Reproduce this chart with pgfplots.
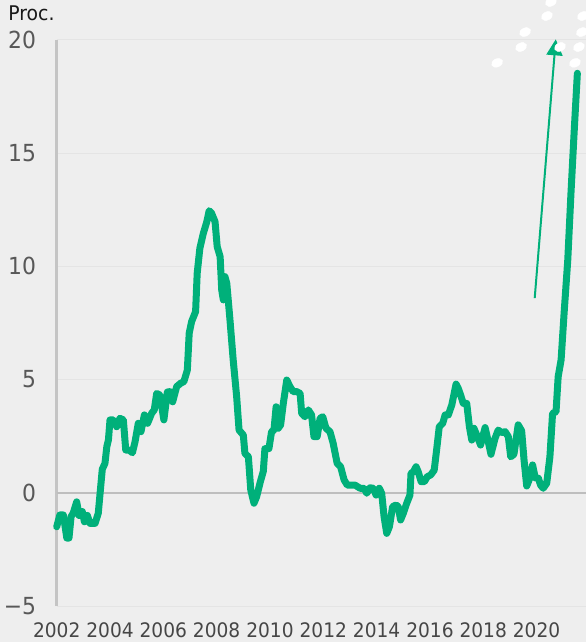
\documentclass[border=0pt]{standalone}
\usepackage{pgfplots}
\pgfplotsset{compat=1.18}
\usepackage{fontspec}
\setmainfont{DejaVu Sans}[FakeStretch=0.93]
\usetikzlibrary{arrows.meta,backgrounds}
\definecolor{bg}{RGB}{238,238,238}
\definecolor{gridc}{RGB}{228,228,228}
\definecolor{zeroc}{RGB}{190,190,190}
\definecolor{axc}{RGB}{196,196,196}
\definecolor{lgreen}{RGB}{0,176,122}
\definecolor{ylab}{RGB}{88,88,88}
\definecolor{xlab}{RGB}{70,70,70}
\definecolor{titc}{RGB}{25,25,25}
\begin{document}
\begin{tikzpicture}
\begin{axis}[
  scale only axis, width=529.3bp, height=566bp,
  xmin=2002, xmax=2021.854, ymin=-5, ymax=20,
  clip=false,
  axis lines*=left,
  x axis line style={draw=none},
  y axis line style={draw=axc, line width=2.4bp},
  xtick={2002,2004,...,2020},
  xticklabels={2002,2004,2006,2008,2010,2012,2014,2016,2018,2020},
  ytick={-5,0,5,10,15,20},
  yticklabels={−5,0,5,10,15,20},
  major tick length=0pt,
  ymajorgrids, grid style={gridc, line width=1bp},
  extra y ticks={0}, extra y tick labels={},
  extra y tick style={grid style={zeroc, line width=2bp}},
  xticklabel style={font=\fontsize{20bp}{24bp}\selectfont, text=xlab, anchor=base, inner sep=0pt, yshift=-31.8bp},
  yticklabel style={font=\fontsize{23.5bp}{28bp}\selectfont, text=ylab, anchor=east, inner sep=0pt, xshift=-20.5bp},
]
\coordinate (bl) at (rel axis cs:0,0);
\coordinate (tr) at (rel axis cs:1,1);
% decorative white dots
\addplot[only marks, mark=*, color=white, mark size=4.1bp,
  mark options={draw=none, fill=white, rotate=25, xscale=1.42}] coordinates {
  (2020.54,21.68) (2020.39,21.06) (2019.57,20.35) (2019.42,19.69) (2018.52,18.99)
  (2021.74,21.06) (2021.70,20.35) (2021.59,19.69) (2021.44,18.99) (2020.88,19.69)
};
% main series
\addplot[lgreen, line width=7bp, line join=round, line cap=round] coordinates {
(2002.00,-1.5) (2002.12,-0.98) (2002.25,-0.98) (2002.38,-2.0) (2002.46,-2.0)
(2002.54,-1.05) (2002.62,-0.9) (2002.75,-0.4) (2002.84,-1.0) (2002.96,-0.83)
(2003.04,-1.28) (2003.15,-1.0) (2003.25,-1.35) (2003.44,-1.35) (2003.56,-0.9)
(2003.65,0.27) (2003.71,1.04) (2003.81,1.3) (2003.88,2.04) (2003.94,2.33)
(2004.00,3.22) (2004.12,3.22) (2004.25,2.92) (2004.37,3.29) (2004.50,3.22)
(2004.59,1.89) (2004.71,1.89) (2004.84,1.77) (2004.94,2.26) (2005.06,3.07)
(2005.16,2.7) (2005.29,3.44) (2005.41,3.07) (2005.56,3.51) (2005.66,3.66)
(2005.75,4.39) (2005.87,4.32) (2006.02,3.22) (2006.15,4.45) (2006.25,4.47)
(2006.35,4.02) (2006.50,4.69) (2006.65,4.84) (2006.77,4.91) (2006.90,5.42)
(2006.97,7.05) (2007.06,7.56) (2007.21,8.0) (2007.27,9.70) (2007.37,10.8)
(2007.50,11.46) (2007.63,11.97) (2007.72,12.46) (2007.81,12.35) (2007.94,11.97)
(2008.02,10.87) (2008.13,10.43) (2008.19,8.96) (2008.25,8.52) (2008.31,9.55)
(2008.38,9.25) (2008.50,7.63) (2008.62,5.87) (2008.75,4.25) (2008.84,2.77)
(2009.00,2.55) (2009.06,1.74) (2009.19,1.59) (2009.28,0.12) (2009.40,-0.46)
(2009.50,-0.17) (2009.63,0.45) (2009.75,0.95) (2009.81,1.95) (2009.96,1.95)
(2010.06,2.7) (2010.15,2.77) (2010.23,3.80) (2010.31,2.85) (2010.40,3.0)
(2010.50,3.95) (2010.63,4.98) (2010.75,4.69) (2010.87,4.47) (2011.00,4.47)
(2011.13,4.39) (2011.19,3.51) (2011.31,3.36) (2011.44,3.66) (2011.56,3.44)
(2011.65,2.48) (2011.77,2.48) (2011.88,3.29) (2011.98,3.36) (2012.10,2.85)
(2012.25,2.70) (2012.37,2.19) (2012.52,1.30) (2012.65,1.15) (2012.78,0.57)
(2012.90,0.34) (2013.19,0.34) (2013.38,0.2) (2013.53,0.2) (2013.63,-0.02)
(2013.75,0.22) (2013.88,0.2) (2013.98,-0.1) (2014.10,0.2) (2014.19,-0.02)
(2014.28,-1.06) (2014.38,-1.79) (2014.48,-1.5) (2014.60,-0.61) (2014.73,-0.54)
(2014.81,-0.61) (2014.90,-1.2) (2015.00,-0.91) (2015.13,-0.46) (2015.25,-0.1)
(2015.29,0.86) (2015.38,0.93) (2015.48,1.15) (2015.56,0.93) (2015.67,0.49)
(2015.79,0.49) (2015.90,0.71) (2016.03,0.79) (2016.16,1.0) (2016.25,1.89)
(2016.35,2.92) (2016.48,3.07) (2016.57,3.44) (2016.69,3.44) (2016.82,3.88)
(2016.98,4.80) (2017.06,4.62) (2017.15,4.32) (2017.25,3.95) (2017.38,3.95)
(2017.48,2.92) (2017.57,2.33) (2017.65,2.85) (2017.78,2.48) (2017.90,2.11)
(2018.07,2.88) (2018.18,2.3) (2018.29,1.70) (2018.44,2.4) (2018.56,2.77)
(2018.69,2.66) (2018.82,2.70) (2018.94,2.48) (2019.03,1.59) (2019.15,1.70)
(2019.31,3.0) (2019.44,2.74) (2019.53,1.45) (2019.63,0.3) (2019.73,0.6)
(2019.85,1.23) (2019.95,0.66) (2020.07,0.64) (2020.15,0.34) (2020.25,0.2)
(2020.38,0.42) (2020.50,1.59) (2020.60,3.51) (2020.73,3.58) (2020.81,5.13)
(2020.92,5.87) (2021.04,8.07) (2021.17,10.28) (2021.29,13.23) (2021.42,16.17)
(2021.53,18.53)
};
% arrow
\draw[lgreen, line width=2bp, -{Triangle[length=16bp,width=16bp]}]
  (axis cs:2019.93,8.60) -- (axis cs:2020.72,20.03);
\node[anchor=base west, inner sep=0pt, text=titc, font=\fontsize{20.2bp}{24bp}\selectfont]
  at ([xshift=-48.5bp, yshift=19.3bp]rel axis cs:0,1) {Proc.};
\end{axis}
\pgfresetboundingbox
\path[use as bounding box] ([xshift=-56.7bp, yshift=-36bp]bl) rectangle ([yshift=40bp]tr);
\begin{scope}[on background layer]
\fill[bg] ([xshift=-56.7bp, yshift=-36bp]bl) rectangle ([yshift=40bp]tr);
\end{scope}
\end{tikzpicture}
\end{document}
